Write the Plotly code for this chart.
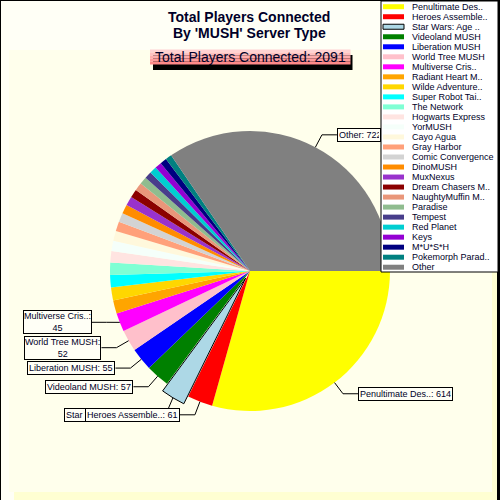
import math
import plotly.graph_objects as go

# slice data, clockwise from 3 o'clock
servers = [
    "Penultimate Des..", "Heroes Assemble..", "Star Wars: Age ..", "Videoland MUSH",
    "Liberation MUSH", "World Tree MUSH", "Multiverse Cris..", "Radiant Heart M..",
    "Wilde Adventure..", "Super Robot Tai..", "The Network", "Hogwarts Express",
    "YorMUSH", "Cayo Agua", "Gray Harbor", "Comic Convergence", "DinoMUSH",
    "MuxNexus", "Dream Chasers M..", "NaughtyMuffin M..", "Paradise", "Tempest",
    "Red Planet", "Keys", "M*U*S*H", "Pokemorph Parad..", "Other",
]
players = [
    614, 61, 59, 57, 55, 52, 45, 32, 31, 30, 30, 27, 25, 24, 23, 22, 22,
    22, 20, 19, 18, 17, 17, 16, 16, 15, 722,
]
colors = [
    "#FFFF00", "#FF0000", "#ADD8E6", "#008000", "#0000FF", "#FFC0CB", "#FF00FF",
    "#FFA500", "#FFD700", "#00FFFF", "#7FFFD4", "#FFE4E1", "#F5FFFA", "#FFF8DC",
    "#FFA07A", "#D3D3D3", "#FF8C00", "#9932CC", "#8B0000", "#E9967A", "#8FBC8F",
    "#483D8B", "#00CED1", "#9400D3", "#000080", "#008080", "#808080",
]
exploded = "Star Wars: Age .."
labelled = servers[:7] + ["Other"]
wrapped = ["World Tree MUSH", "Multiverse Cris.."]
title_lines = ["Total Players Connected", "By 'MUSH' Server Type"]

FONT = "Liberation Sans, Arial, sans-serif"
TXT = "#000028"
W = H = 500
CX, CY, R = 250, 271, 140      # pie centre / radius in px
PULL = 0.06


def px(x):
    return x / W


def py(y):
    return 1 - y / H


total = sum(players)
D = R * (1 + PULL)

fig = go.Figure(go.Pie(
    labels=servers,
    values=players,
    sort=False,
    direction="clockwise",
    rotation=90,
    textinfo="none",
    showlegend=False,
    pull=[PULL if s == exploded else 0 for s in servers],
    marker=dict(
        colors=colors,
        line=dict(color="black", width=[1 if s == exploded else 0 for s in servers]),
    ),
    domain=dict(x=[px(CX - D), px(CX + D)], y=[py(CY + D), py(CY - D)]),
))

shapes = [
    # backdrop
    dict(type="rect", x0=px(14), x1=px(497), y0=py(500), y1=py(55),
         fillcolor="#FFFFD2", line_width=0, layer="below"),
    dict(type="rect", x0=px(9), x1=px(492), y0=py(492), y1=py(50),
         fillcolor="#FFFFEC", line_width=0, layer="below"),
    dict(type="line", x0=0, x1=0, y0=0, y1=1, line=dict(color="black", width=2)),
    dict(type="line", x0=0, x1=1, y0=1, y1=1, line=dict(color="black", width=2)),
    dict(type="rect", x0=px(497), x1=1, y0=0, y1=1, fillcolor="black", line_width=0),
    # subtitle shadow
    dict(type="rect", x0=px(153), x1=px(352.5), y0=py(70), y1=py(55),
         fillcolor="black", line_width=0),
    # legend box
    dict(type="rect", x0=px(381), x1=px(498), y0=py(272), y1=py(1),
         fillcolor="white", line=dict(color="black", width=1)),
]

# subtitle box, pink gradient top to bottom
grad = ["#FFD2D2", "#FFC0C0", "#FFADAD", "#FF9C9C", "#FF8A8A"]
bh = 15.0 / len(grad)
for i, c in enumerate(grad):
    shapes.append(dict(type="rect", x0=px(150), x1=px(350.5),
                       y0=py(49.5 + bh * (i + 1)), y1=py(49.5 + bh * i),
                       fillcolor=c, line_width=0))

annotations = []
for i, t in enumerate(title_lines):
    annotations.append(dict(
        text="<b>%s</b>" % t, x=px(249), y=py(17 + 16.5 * i),
        xref="paper", yref="paper", showarrow=False, yanchor="middle",
        font=dict(family=FONT, size=14, color=TXT)))
annotations.append(dict(
    text="Total Players Connected: %d" % total,
    x=px(250), y=py(57), xref="paper", yref="paper", showarrow=False,
    yanchor="middle", font=dict(family=FONT, size=14, color=TXT)))

# outside labels with elbow leader lines
labels = []
cum = 0
prev_ky = prev_top = None
for name, val in zip(servers, players):
    mid = (cum + val / 2) / total * 2 * math.pi
    cum += val
    if name not in labelled:
        continue
    off = R * PULL if name == exploded else 0
    ex, ey = CX + (R + off) * math.cos(mid), CY + (R + off) * math.sin(mid)
    kx, ky = CX + (R + off + 14) * math.cos(mid), CY + (R + off + 14) * math.sin(mid)
    right = math.cos(mid) > 0
    bh_lab = 25.4 if name in wrapped else 14
    if not right:
        if prev_ky is not None and ky > prev_ky - 8:
            ky = prev_ky                       # crowded: share the row
        elif prev_top is not None and ky + bh_lab / 2 > prev_top:
            ky = prev_top - bh_lab / 2         # push up clear of the box below
        prev_ky, prev_top = ky, ky - bh_lab / 2
    bx = kx + 15 if right else kx - 15
    shapes.append(dict(
        type="path", xref="paper", yref="paper",
        path="M %f,%f L %f,%f L %f,%f" % (px(ex), py(ey), px(kx), py(ky), px(bx), py(ky)),
        line=dict(color="black", width=1),
    ))
    sep = "<br>" if name in wrapped else " "
    ann = dict(
        text="%s:%s%d" % (name, sep, val), x=px(bx), y=py(ky),
        xref="paper", yref="paper", showarrow=False,
        xanchor="left" if right else "right", yanchor="middle",
        bgcolor="#FFFFF6", bordercolor="black", borderwidth=1,
        borderpad=0 if name in wrapped else 1,
        font=dict(family=FONT, size=9, color=TXT),
    )
    if name == "Other":
        ann["width"] = 381 - bx - 4
        ann["align"] = "left"
    labels.append((name, ann))
# the exploded slice's box sits underneath its neighbour
labels.sort(key=lambda p: p[0] != exploded)
annotations += [a for _, a in labels]

# hand-drawn legend (plotly's own items are too tall for 27 rows)
for i, (name, col) in enumerate(zip(servers, colors)):
    yy = 6.7 + 10.02 * i
    shapes.append(dict(
        type="rect", x0=px(383), x1=px(404), y0=py(yy + 2.5), y1=py(yy - 2.5),
        fillcolor=col, line=dict(color="black", width=1 if name == exploded else 0),
    ))
    annotations.append(dict(
        text=name, x=px(411), y=py(yy), xref="paper", yref="paper",
        showarrow=False, xanchor="left", yanchor="middle", borderpad=0,
        font=dict(family=FONT, size=9, color=TXT),
    ))

fig.update_layout(
    width=W, height=H,
    margin=dict(l=0, r=0, t=0, b=0),
    paper_bgcolor="#FFFFF6",
    shapes=shapes,
    annotations=annotations,
)

fig.write_html("out.html", config={"displayModeBar": False},
               post_script="document.body.style.margin = '0';")
